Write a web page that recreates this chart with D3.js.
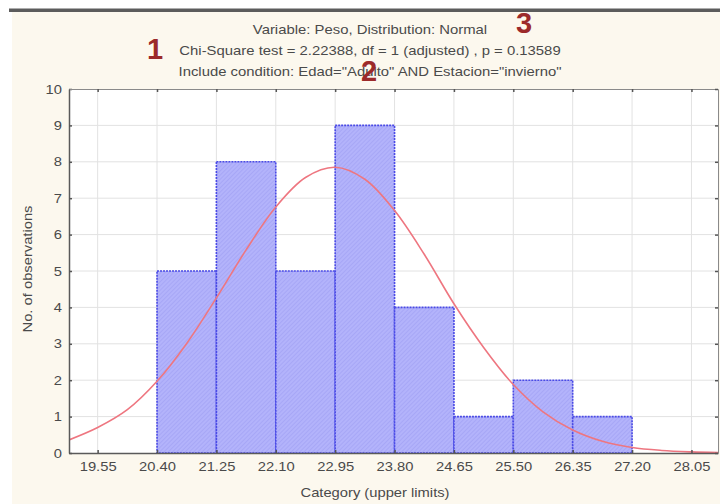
<!DOCTYPE html>
<html><head><meta charset="utf-8">
<script src="https://cdn.jsdelivr.net/npm/d3@7"></script>
<style>
html,body{margin:0;padding:0;background:#fff;}
svg{display:block;font-family:"Liberation Sans",Arial,sans-serif;}
</style></head>
<body>
<svg id="chart" width="720" height="504"></svg>
<script>
// ---- data ----
const tickLabels = ["19.55","20.40","21.25","22.10","22.95","23.80","24.65","25.50","26.35","27.20","28.05"];
const binLower = [20.40, 21.25, 22.10, 22.95, 23.80, 24.65, 25.50, 26.35];
const binUpper = [21.25, 22.10, 22.95, 23.80, 24.65, 25.50, 26.35, 27.20];
const counts   = [5, 8, 5, 9, 4, 1, 2, 1];
const curveX = [19.14, 19.55, 19.975, 20.40, 20.825, 21.25, 21.675, 22.10, 22.525, 22.95, 23.375, 23.80, 24.225, 24.65, 25.075, 25.50, 25.925, 26.35, 26.775, 27.20, 27.625, 28.05, 28.43];
const curveY = [0.36, 0.70, 1.19, 1.97, 3.01, 4.26, 5.58, 6.76, 7.57, 7.85, 7.52, 6.66, 5.46, 4.10, 2.90, 1.88, 1.13, 0.63, 0.32, 0.15, 0.07, 0.03, 0.01];
const yTicks = [0,1,2,3,4,5,6,7,8,9,10];
const titleLines = [
  "Variable: Peso, Distribution: Normal",
  "Chi-Square test = 2.22388, df = 1 (adjusted) , p = 0.13589",
  "Include condition: Edad=\"Adulto\" AND Estacion=\"invierno\""
];
const markers = ["1","2","3"];
const xTitle = "Category (upper limits)";
const yTitle = "No. of observations";

// ---- drawing ----
const svg = d3.select("#chart");
const L = 69, R = 718, T = 89, B = 453;
const x = d3.scaleLinear().domain([19.14, 28.43]).range([L, R]);
const y = d3.scaleLinear().domain([0, 10]).range([B, T]);
const SX = 1.18; // horizontal stretch of the screenshot's text

// backgrounds
svg.append("rect").attr("x",0).attr("y",0).attr("width",720).attr("height",504).attr("fill","#ffffff");
svg.append("rect").attr("x",12).attr("y",12).attr("width",708).attr("height",492).attr("fill","#fcf8ee");
svg.append("rect").attr("x",9).attr("y",8.5).attr("width",711).attr("height",3.5).attr("fill","#5c5c5c");
svg.append("rect").attr("x",L).attr("y",T).attr("width",R-L).attr("height",B-T).attr("fill","#ffffff");

// hatch pattern
const defs = svg.append("defs");
const pat = defs.append("pattern").attr("id","hatch").attr("patternUnits","userSpaceOnUse")
  .attr("width",3).attr("height",3).attr("patternTransform","rotate(45)");
pat.append("rect").attr("width",3).attr("height",3).attr("fill","#b3b3fb");
pat.append("line").attr("x1",0).attr("y1",0).attr("x2",0).attr("y2",3).attr("stroke","#9c9cf2").attr("stroke-width",1);

// grid
const grid = svg.append("g");
grid.selectAll("line.v").data(tickLabels).join("line")
  .attr("x1",d=>x(+d)).attr("x2",d=>x(+d)).attr("y1",T).attr("y2",B)
  .attr("stroke","#e2e2e2").attr("stroke-width",1);
grid.selectAll("line.h").data(yTicks.slice(1,-1)).join("line")
  .attr("x1",L).attr("x2",R).attr("y1",d=>y(d)).attr("y2",d=>y(d))
  .attr("stroke","#e2e2e2").attr("stroke-width",1);

// bars
const bars = counts.map((c,i)=>({lo:binLower[i], hi:binUpper[i], c}));
svg.append("g").selectAll("rect").data(bars).join("rect")
  .attr("x",d=>x(d.lo)).attr("y",d=>y(d.c))
  .attr("width",d=>x(d.hi)-x(d.lo)).attr("height",d=>y(0)-y(d.c))
  .attr("fill","url(#hatch)").attr("stroke","#4a4ae6").attr("stroke-width",1.6)
  .attr("stroke-dasharray","2,1");

// normal curve
const line = d3.line().x(d=>x(d[0])).y(d=>y(d[1])).curve(d3.curveCatmullRom.alpha(0.5));
const clip = defs.append("clipPath").attr("id","plotclip");
clip.append("rect").attr("x",L).attr("y",T).attr("width",R-L).attr("height",B-T);
svg.append("path").datum(curveX.map((v,i)=>[v,curveY[i]]))
  .attr("clip-path","url(#plotclip)")
  .attr("d",line).attr("fill","none").attr("stroke","#ee7680").attr("stroke-width",1.6);

// axes
const axisColor = "#5a5a5a";
const xB = svg.append("g").attr("transform",`translate(0,${B})`)
  .call(d3.axisBottom(x).tickValues(tickLabels.map(Number)).tickFormat((d,i)=>tickLabels[i]).tickSizeInner(-3).tickSizeOuter(0).tickPadding(9));
const yL = svg.append("g").attr("transform",`translate(${L},0)`)
  .call(d3.axisLeft(y).tickValues(yTicks).tickFormat(d3.format("d")).tickSizeInner(-3).tickSizeOuter(0).tickPadding(7));
const xT = svg.append("g").attr("transform",`translate(0,${T})`)
  .call(d3.axisTop(x).tickValues(tickLabels.map(Number)).tickFormat("").tickSizeInner(-3).tickSizeOuter(0));
const yR = svg.append("g").attr("transform",`translate(${R},0)`)
  .call(d3.axisRight(y).tickValues(yTicks).tickFormat("").tickSizeInner(-3).tickSizeOuter(0));
[xB,yL,xT,yR].forEach(g=>{
  g.select(".domain").attr("stroke",axisColor).attr("stroke-width",1.5);
  g.selectAll(".tick line").attr("stroke","#555").attr("stroke-width",1.5);
  g.selectAll("text").attr("fill","#4a4a4a").attr("font-size",12.5)
   .attr("font-family","'Liberation Sans',Arial,sans-serif");
});
xT.select(".domain").attr("stroke","#8a8a8a").attr("stroke-width",1);
yR.select(".domain").attr("stroke","#8a8a8a").attr("stroke-width",1);
// stretch tick label text horizontally
xB.selectAll(".tick text").attr("transform",`scale(${SX},1)`).attr("x",0);
yL.selectAll(".tick text").each(function(){
  const t = d3.select(this);
  t.attr("transform",`translate(-7,0) scale(${SX},1)`).attr("x",0);
});

// axis titles
svg.append("text").attr("transform",`translate(375,497) scale(${SX},1)`)
  .attr("text-anchor","middle").attr("font-size",12.5).attr("fill","#4a4a4a").text(xTitle);
svg.append("text").attr("transform",`translate(32,269) rotate(-90) scale(${SX},1)`)
  .attr("text-anchor","middle").attr("font-size",12.5).attr("fill","#4a4a4a").text(yTitle);

// title block
const titleY = [34, 55, 76];
svg.append("g").selectAll("text").data(titleLines).join("text")
  .attr("transform",(d,i)=>`translate(370,${titleY[i]}) scale(1.24,1)`)
  .attr("text-anchor","middle").attr("font-size",12).attr("fill","#4a4a4a").text(d=>d);

// annotation numerals
const markerPos = [[155,59],[369,81],[524,33]];
svg.append("g").selectAll("text").data(markers).join("text")
  .attr("x",(d,i)=>markerPos[i][0]).attr("y",(d,i)=>markerPos[i][1])
  .attr("text-anchor","middle").attr("font-size",29).attr("font-weight","bold")
  .attr("fill","#9c2a2a").text(d=>d);
</script>
</body></html>
